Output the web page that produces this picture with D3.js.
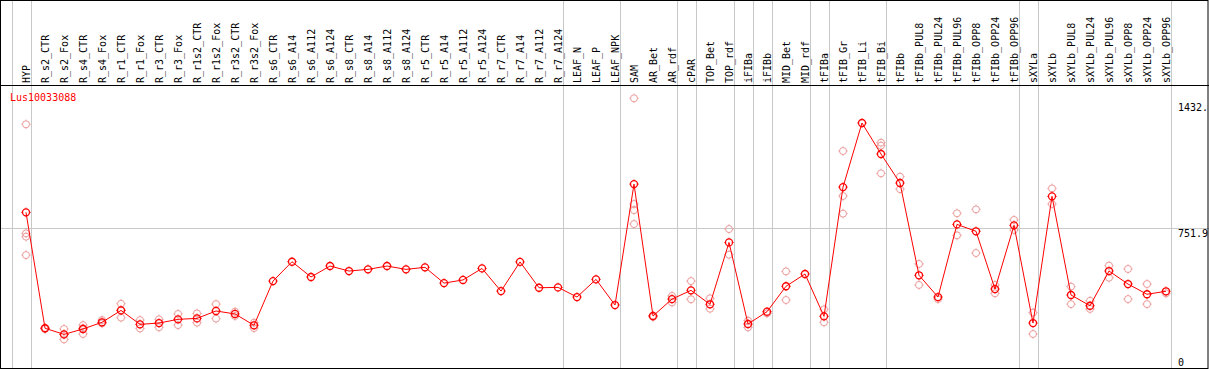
<!DOCTYPE html>
<html>
    <head>
        <meta charset="utf-8" />
        <script src="https://d3js.org/d3.v7.min.js"></script>
        <style>
            body {
                margin: 0;
                background-color: white;
            }
            svg text {
                font-family: 'DejaVu Sans Mono', monospace;
                font-size: 10px;
            }
        </style>
    </head>
    <body>
        <svg></svg>
        <script>
            const geneName = 'Lus10033088'

            const samples = [
                'HYP', 'R_s2_CTR', 'R_s2_Fox', 'R_s4_CTR', 'R_s4_Fox', 'R_r1_CTR',
                'R_r1_Fox', 'R_r3_CTR', 'R_r3_Fox', 'R_r1s2_CTR', 'R_r1s2_Fox',
                'R_r3s2_CTR', 'R_r3s2_Fox', 'R_s6_CTR', 'R_s6_A14', 'R_s6_A112',
                'R_s6_A124', 'R_s8_CTR', 'R_s8_A14', 'R_s8_A112', 'R_s8_A124',
                'R_r5_CTR', 'R_r5_A14', 'R_r5_A112', 'R_r5_A124', 'R_r7_CTR',
                'R_r7_A14', 'R_r7_A112', 'R_r7_A124', 'LEAF_N', 'LEAF_P', 'LEAF_NPK',
                'SAM', 'AR_Bet', 'AR_rdf', 'cPAR', 'TOP_Bet', 'TOP_rdf', 'iFIBa',
                'iFIBb', 'MID_Bet', 'MID_rdf', 'tFIBa', 'tFIB_Gr', 'tFIB_Li',
                'tFIB_Bi', 'tFIBb', 'tFIBb_PUL8', 'tFIBb_PUL24', 'tFIBb_PUL96',
                'tFIBb_OPP8', 'tFIBb_OPP24', 'tFIBb_OPP96', 'sXYLa', 'sXYLb',
                'sXYLb_PUL8', 'sXYLb_PUL24', 'sXYLb_PUL96', 'sXYLb_OPP8',
                'sXYLb_OPP24', 'sXYLb_OPP96',
            ]

            // mean expression per sample
            const means = [
                838, 214, 181, 210, 246, 310, 235, 242, 262, 267, 307, 291, 230,
                468, 572, 490, 549, 522, 531, 549, 531, 542, 457, 474, 536, 414,
                571, 432, 434, 382, 477, 339,
                990, 280, 371, 418, 343, 676, 237, 303, 440, 506, 278, 974, 1319, 1152,
                996, 499, 382, 773, 736, 425, 768, 242, 924, 393, 335, 522, 452, 397, 413,
            ]

            // single replicates (light points)
            const replicates = [
                [1312, 725, 707, 608], [214, 210, 216], [210, 154, 181], [231, 183, 214],
                [258, 240], [346, 271, 312], [258, 213], [262, 219], [291, 231],
                [294, 244], [344, 266], [303, 280], [244, 215],
                [], [], [], [], [], [], [], [], [], [], [], [], [], [], [], [], [], [], [],
                [1452, 883, 850, 775], [281, 275], [388, 353], [468, 370], [375, 319],
                [748, 610], [255, 219], [294], [520, 366], [], [316, 246],
                [1168, 926, 831], [], [1213, 1197, 1048], [1030, 963], [560, 447],
                [371], [833, 714], [854, 619], [447, 402], [797, 743], [298, 183],
                [967, 883], [438, 344], [362, 318], [551, 486], [533, 371],
                [452, 344], [402],
            ]

            // last sample of each group (separator drawn after it)
            const groupEnds = [
                'HYP', 'R_r7_A124', 'LEAF_NPK', 'AR_rdf', 'cPAR', 'TOP_rdf', 'iFIBa',
                'iFIBb', 'MID_rdf', 'tFIBa', 'tFIB_Bi', 'tFIBb_OPP96', 'sXYLa',
                'sXYLb_OPP96',
            ]

            const yTicks = [
                { value: 1432, label: '1432.', pos: 'below' },
                { value: 751.9, label: '751.9', pos: 'below', grid: true },
                { value: 0, label: '0', pos: 'above' },
            ]

            const width = 1209
            const height = 370
            const headerY = 85.5
            const bottomY = 368

            const svg = d3.select('svg')
                .attr('width', width)
                .attr('height', height)

            const xScale = d3.scalePoint()
                .domain(samples)
                .range([26, 1166])

            const yScale = d3.scaleLinear()
                .domain([0, 1432])
                .range([bottomY, 102])

            const step = xScale.step()

            // horizontal grid
            yTicks.filter((t) => t.grid).forEach((t) => {
                const y = Math.round(yScale(t.value)) + 0.5
                svg.append('line')
                    .attr('x1', 0).attr('x2', width)
                    .attr('y1', y).attr('y2', y)
                    .style('stroke', '#c8c8c8')
            })

            // group separators
            const sepX = [xScale(samples[0]) - step + 4.75]
                .concat(groupEnds.map((s) => xScale(s) + 4.75))
            sepX.forEach((x) => {
                const xx = Math.round(x) + 0.5
                svg.append('line')
                    .attr('x1', xx).attr('x2', xx)
                    .attr('y1', 0).attr('y2', bottomY)
                    .style('stroke', '#c8c8c8')
            })

            function marker(g, x, y, color, sw) {
                const r = 3.5
                g.append('circle')
                    .attr('cx', x).attr('cy', y).attr('r', r)
                    .style('fill', 'none')
                    .style('stroke', color)
                    .style('stroke-width', sw)
                const ticks = [[0, -1], [0, 1], [-1, 0], [1, 0]]
                ticks.forEach(([dx, dy]) => {
                    g.append('line')
                        .attr('x1', x + dx * r).attr('y1', y + dy * r)
                        .attr('x2', x + dx * (r + 1.3)).attr('y2', y + dy * (r + 1.3))
                        .style('stroke', color)
                        .style('stroke-width', 0.8)
                })
            }

            // replicates
            const repG = svg.append('g')
            samples.forEach((s, i) => {
                replicates[i].forEach((v) => {
                    marker(repG, xScale(s), yScale(v), '#eb9a9a', 1)
                })
            })

            // mean line
            const line = d3.line()
                .x((d, i) => xScale(samples[i]))
                .y((d) => yScale(d))
            svg.append('path')
                .datum(means)
                .attr('d', line)
                .style('fill', 'none')
                .style('stroke', '#ff0000')
                .style('stroke-width', 1)

            const meanG = svg.append('g')
            means.forEach((v, i) => {
                marker(meanG, xScale(samples[i]), yScale(v), '#ff0000', 1.3)
            })

            // column labels
            svg.append('g')
                .selectAll('text')
                .data(samples)
                .enter()
                .append('text')
                .attr('transform', (d) => `translate(${xScale(d) + 4},83) rotate(-90)`)
                .style('fill', 'black')
                .text((d) => d)

            // gene name
            svg.append('text')
                .attr('x', 10)
                .attr('y', 101)
                .style('fill', '#ff0000')
                .text(geneName)

            // y labels
            yTicks.forEach((t) => {
                const y = yScale(t.value)
                svg.append('text')
                    .attr('x', 1178)
                    .attr('y', t.pos === 'below' ? y + 9 : y - 2)
                    .style('fill', 'black')
                    .text(t.label)
            })

            // frame
            svg.append('line')
                .attr('x1', 0).attr('x2', width)
                .attr('y1', headerY).attr('y2', headerY)
                .style('stroke', 'black')
            svg.append('rect')
                .attr('x', 0.5).attr('y', 0.5)
                .attr('width', width - 1.5).attr('height', bottomY)
                .style('fill', 'none')
                .style('stroke', 'black')
        </script>
    </body>
</html>
